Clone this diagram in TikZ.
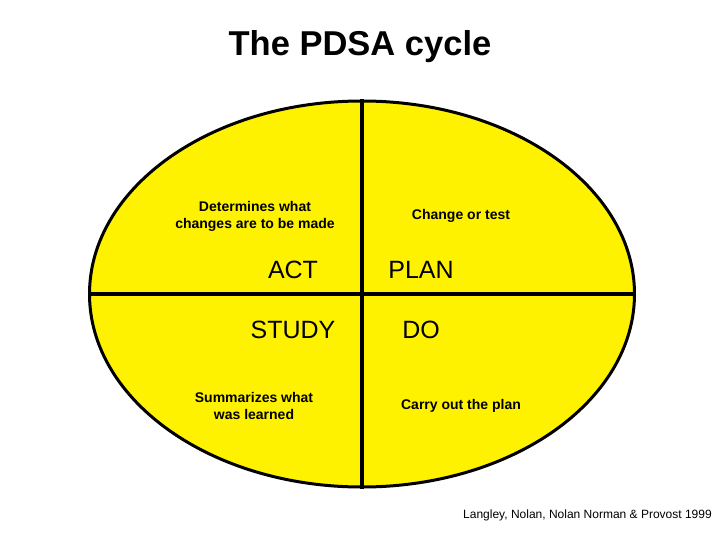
\documentclass[tikz,border=0pt]{standalone}
\usepackage{fontspec}
\setmainfont{Liberation Sans}
\usepackage{xcolor}
\usetikzlibrary{positioning,shapes.geometric}

\begin{document}
\begin{tikzpicture}[x=1pt, y=-1pt, every node/.style={align=center, inner sep=0pt},
    note/.style={font=\fontsize{14}{17}\selectfont\bfseries},
    phase/.style={font=\fontsize{25}{28}\selectfont}]
  \useasboundingbox (0,0) rectangle (720,540);
  \def\ow{545pt}
  \def\oh{386pt}

  \node[font=\fontsize{34.5}{38}\selectfont\bfseries] (title) at (360,47) {The PDSA cycle};

  \node[draw, line width=3pt, fill=yellow, ellipse,
        minimum width=\ow, minimum height=\oh] (oval) at (362,294) {};

  \draw[line width=4pt] (oval.north) -- (oval.south);
  \draw[line width=4pt] (oval.west) -- (oval.east);

  \node[note] (actnote) at (255,216) {Determines what\\changes are to be made};
  \node[note] (plannote) at (461,216) {Change or test};
  \node[phase] (act) at (293,270) {ACT};
  \node[phase] (plan) at (421,270) {PLAN};
  \node[phase] (study) at (293,330) {STUDY};
  \node[phase] (do) at (421,330) {DO};
  \node[note] (studynote) at (254,406) {Summarizes what\\was learned};
  \node[note] (donote) at (461,406) {Carry out the plan};

  \node[font=\fontsize{12}{14}\selectfont, anchor=east] (source) at (712,515)
      {Langley, Nolan, Nolan Norman \& Provost 1999};
\end{tikzpicture}
\end{document}
